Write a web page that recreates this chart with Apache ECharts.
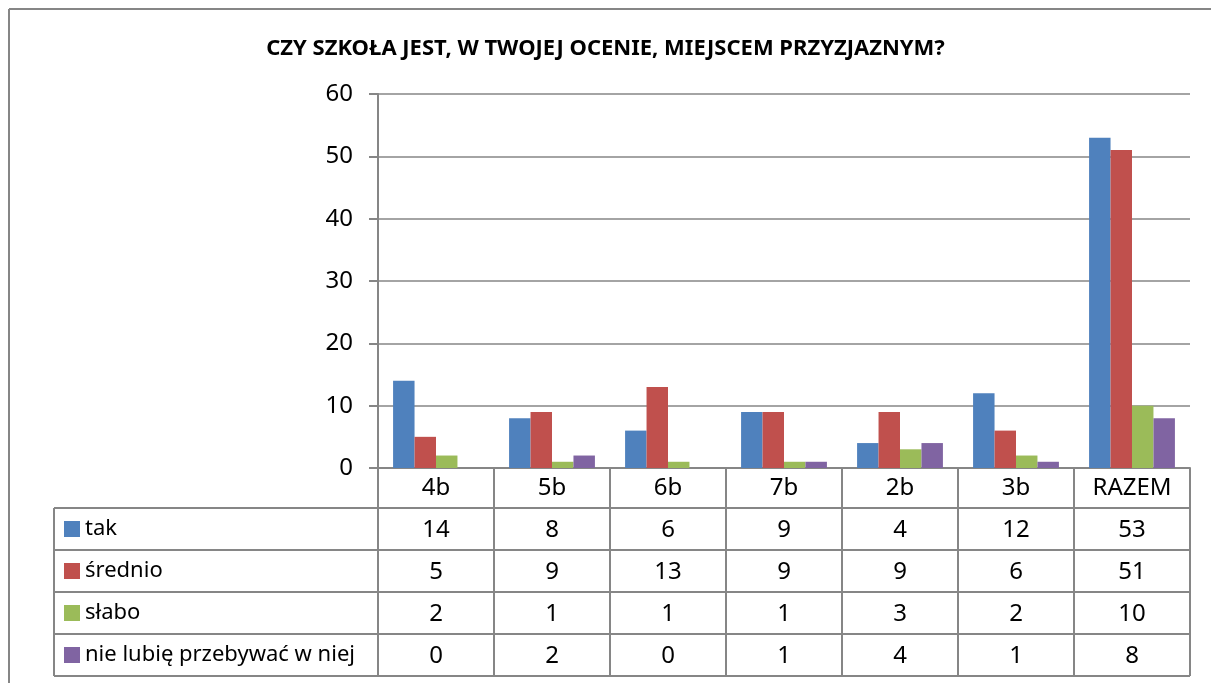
<!DOCTYPE html>
<html>
<head>
<meta charset="utf-8">
<script src="https://cdn.jsdelivr.net/npm/echarts@6/dist/echarts.min.js"></script>
<style>
  html, body { margin: 0; padding: 0; background: #fff; }
  #main { width: 1211px; height: 683px; }
</style>
</head>
<body>
<div id="main"></div>
<script>
const categories = ['4b', '5b', '6b', '7b', '2b', '3b', 'RAZEM'];
const seriesNames = ['tak', 'średnio', 'słabo', 'nie lubię przebywać w niej'];
const tak = [14, 8, 6, 9, 4, 12, 53];
const srednio = [5, 9, 13, 9, 9, 6, 51];
const slabo = [2, 1, 1, 1, 3, 2, 10];
const nieLubie = [0, 2, 0, 1, 4, 1, 8];
const colors = ['#4F81BD', '#C0504D', '#9BBB59', '#8064A2'];
const values = [tak, srednio, slabo, nieLubie];

const font = 'Noto Sans';
const grey = '#868686';
const textSize = 24;

const chart = echarts.init(document.getElementById('main'));

// poziome linie tabeli pod wykresem
const rowLines = [508, 550, 592, 634, 676].map(y => ({
  type: 'line',
  shape: { x1: 54, y1: y, x2: 1190, y2: y },
  style: { stroke: grey, lineWidth: 2 }
}));

chart.setOption({
  animation: false,
  color: colors,
  title: {
    text: 'CZY SZKOŁA JEST, W TWOJEJ OCENIE, MIEJSCEM PRZYZJAZNYM?',
    left: 'center',
    top: 33,
    textStyle: { fontFamily: font, fontSize: 22, fontWeight: 'bold', color: '#000' }
  },
  legend: {
    orient: 'vertical',
    left: 64,
    top: 518,
    height: 300,
    padding: 0,
    itemWidth: 16,
    itemHeight: 16,
    itemGap: 20,
    icon: 'rect',
    selectedMode: false,
    textStyle: { fontFamily: font, fontSize: 22, color: '#000' },
    data: seriesNames
  },
  grid: { left: 378, right: 21, top: 94, bottom: 215, containLabel: false },
  xAxis: {
    type: 'category',
    data: categories,
    axisLine: { lineStyle: { color: grey, width: 2 } },
    axisTick: { show: true, length: 208, lineStyle: { color: grey, width: 2 } },
    axisLabel: {
      margin: -1,
      lineHeight: 42,
      fontFamily: font,
      fontSize: textSize,
      color: '#000',
      formatter: (v, i) => [v].concat(values.map(s => s[i])).join('\n')
    }
  },
  yAxis: {
    type: 'value',
    min: 0,
    max: 60,
    interval: 10,
    axisLine: { show: true, lineStyle: { color: grey, width: 2 } },
    axisTick: { show: true, length: 9, lineStyle: { color: grey, width: 2 } },
    splitLine: { lineStyle: { color: grey, width: 1.5 } },
    axisLabel: { margin: 25, fontFamily: font, fontSize: textSize, color: '#000' }
  },
  series: values.map((d, i) => ({
    name: seriesNames[i],
    type: 'bar',
    data: d,
    barGap: '0%',
    barCategoryGap: '26%'
  })),
  graphic: rowLines.concat([
    { type: 'line', shape: { x1: 54, y1: 508, x2: 54, y2: 676 }, style: { stroke: grey, lineWidth: 2 } },
    { type: 'line', shape: { x1: 9, y1: 9, x2: 1211, y2: 9 }, style: { stroke: grey, lineWidth: 2 } },
    { type: 'line', shape: { x1: 9, y1: 9, x2: 9, y2: 683 }, style: { stroke: grey, lineWidth: 2 } }
  ])
});
</script>
</body>
</html>
